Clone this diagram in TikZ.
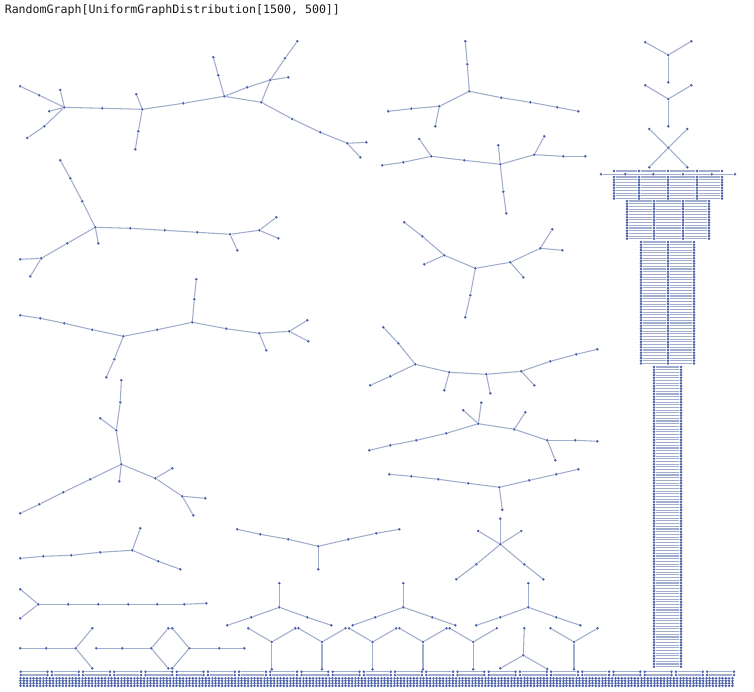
\documentclass[tikz,border=0pt]{standalone}
\usepackage{fontspec}
\newfontfamily\titlefont{DejaVu Sans Mono}
\definecolor{vcol}{HTML}{4A5FA8}
\definecolor{ecol}{HTML}{A0ADCC}
\tikzset{
  v/.style={circle,fill=vcol,draw=none,inner sep=0pt,minimum size=2.1pt},
  e/.style={draw=ecol,line width=0.8pt},
}
\newcommand\gcomp[2]{%
  \foreach \n/\x/\y in {#1} \node[v] (\n) at (\x,\y) {};
  \foreach \p/\q in {#2} \draw[e] (\p) -- (\q);
}
% name, y0, last row index, column list, number of edges per row
\newcommand\towerblock[5]{%
  \foreach \k in {0,...,#3}{%
    \pgfmathsetmacro\yy{#2+2.7*\k}
    \foreach \x [count=\c] in {#4} \node[v] (#1-\k-\c) at (\x,\yy) {};
    \foreach \c [evaluate=\c as \cn using int(\c+1)] in {1,...,#5} \draw[e] (#1-\k-\c) -- (#1-\k-\cn);
  }%
}
\begin{document}
\begin{tikzpicture}[x=0.75pt,y=-0.75pt]
\path[use as bounding box, fill=white] (0,0) rectangle (754,692);
\node[anchor=base west,inner sep=0pt,font=\titlefont\fontsize{8.7pt}{10pt}\selectfont,text=black!90] (title) at (4.5,13.5) {RandomGraph[UniformGraphDistribution[1500, 500]]};

% component A
\gcomp{a1/20.3/86.3, a2/39.3/95.3, a3/64.3/107.3, a4/60.3/90, a5/49.3/111.3, a6/44.3/126.3, a7/27.3/138, a8/102.3/108.3, a9/142.3/109.3, a10/136.3/94.3, a11/138.3/131.3, a12/135.3/149.3, a13/183.3/103.3, a14/224.3/96.3, a15/218.3/75.3, a16/213.3/57.3, a17/247.3/87.3, a18/270.3/80, a19/288.3/77.3, a20/285/58.3, a21/297.3/41.3, a22/261.3/102.3, a23/292.3/119, a24/320.3/132.3, a25/347.3/143.3, a26/366.3/142.3, a27/360.3/157.3}
{a1/a2, a2/a3, a4/a3, a5/a3, a3/a6, a6/a7, a3/a8, a8/a9, a9/a10, a9/a11, a11/a12, a9/a13, a13/a14, a14/a15, a15/a16, a14/a17, a17/a18, a18/a19, a18/a20, a20/a21, a14/a22, a22/a18, a22/a23, a23/a24, a24/a25, a25/a26, a25/a27}
% component B
\gcomp{b1/60.3/160.3, b2/70.3/178.3, b3/82.3/201.3, b4/95.3/227.3, b5/98.3/243.3, b6/67.3/243.3, b7/41.3/258.3, b8/20.3/259.3, b9/30.3/276.3, b10/130.3/228.3, b11/164.7/230.3, b12/197.3/232.3, b13/230/234.3, b14/237.3/250.3, b15/259.3/230.3, b16/276.3/217.3, b17/278.3/238.3}
{b1/b2, b2/b3, b3/b4, b4/b5, b4/b6, b6/b7, b7/b8, b7/b9, b4/b10, b10/b11, b11/b12, b12/b13, b13/b14, b13/b15, b15/b16, b15/b17}
% component C
\gcomp{c1/465.3/41.3, c2/467.3/64.3, c3/469.3/91.3, c4/439.3/106.3, c5/411.3/108.7, c6/388.3/111.3, c7/435.3/126.3, c8/501.3/97.7, c9/530.3/102.3, c10/557.3/107.3, c11/578.3/111.3}
{c1/c2, c2/c3, c3/c4, c4/c5, c5/c6, c4/c7, c3/c8, c8/c9, c9/c10, c10/c11}
% component D
\gcomp{d1/382.3/165.3, d2/403.3/162.3, d3/431.3/156.3, d4/419.3/139, d5/464.3/160.3, d6/500.3/164.3, d7/498.3/145.3, d8/503.3/191.7, d9/506.3/213.3, d10/534.3/154.7, d11/544.3/136.3, d12/563.3/156.3, d13/585.3/156.3}
{d1/d2, d2/d3, d3/d4, d3/d5, d5/d6, d6/d7, d6/d8, d8/d9, d6/d10, d10/d11, d10/d12, d12/d13}
% component E
\gcomp{e1/404.3/222.3, e2/422.3/236.3, e3/444.3/255.3, e4/424.3/264.3, e5/475.3/268.3, e6/470.3/295.3, e7/465.3/317.3, e8/510.3/262.3, e9/523.3/277.3, e10/540.3/248.3, e11/552.3/229.3, e12/562.3/250.3}
{e1/e2, e2/e3, e3/e4, e3/e5, e5/e6, e6/e7, e5/e8, e8/e9, e8/e10, e10/e11, e10/e12}
% component F
\gcomp{f1/20.3/315.3, f2/40.3/318.3, f3/64.3/323.3, f4/92.3/329.7, f5/123.3/336.3, f6/114.3/359.3, f7/106.3/377.3, f8/157.3/329.7, f9/192.3/322.3, f10/194.3/299.3, f11/196.3/279.3, f12/226.3/328.7, f13/259.3/333.3, f14/266.3/350.3, f15/289.3/331.3, f16/307.3/320.3, f17/308.3/341.3}
{f1/f2, f2/f3, f3/f4, f4/f5, f5/f6, f6/f7, f5/f8, f8/f9, f9/f10, f10/f11, f9/f12, f12/f13, f13/f14, f13/f15, f15/f16, f15/f17}
% component G
\gcomp{g1/121.3/380.3, g2/120.3/402.3, g3/116.3/430.3, g4/100.3/418.3, g5/121.3/464.3, g6/119.3/481.3, g7/90.3/479.3, g8/63.3/492.3, g9/39.3/504.3, g10/20.3/513.3, g11/155.3/478.3, g12/172.3/468.3, g13/182.3/496.3, g14/205.3/498.3, g15/193.3/515.3}
{g1/g2, g2/g3, g3/g4, g3/g5, g5/g6, g5/g7, g7/g8, g8/g9, g9/g10, g5/g11, g11/g12, g11/g13, g13/g14, g13/g15}
% component H
\gcomp{h1/383.3/327.3, h2/398.3/343.3, h3/415.3/364.3, h4/390.3/376.3, h5/370.3/385.3, h6/449.3/372.3, h7/444.3/390.3, h8/486.3/374.3, h9/490.3/393.3, h10/521.3/371.3, h11/534.3/385.3, h12/550.3/361.3, h13/576.3/354.3, h14/597.3/349.3}
{h1/h2, h2/h3, h3/h4, h4/h5, h3/h6, h6/h7, h6/h8, h8/h9, h8/h10, h10/h11, h10/h12, h12/h13, h13/h14}
% component I
\gcomp{i1/369.3/450.3, i2/390.3/445.3, i3/416.3/440.3, i4/446.3/433.3, i5/478.3/423.7, i6/463.3/410.3, i7/481.3/402.7, i8/514.3/429.3, i9/525.3/412.3, i10/547.3/440.3, i11/555.3/460.3, i12/575.3/440.3, i13/597.3/441.3}
{i1/i2, i2/i3, i3/i4, i4/i5, i5/i6, i5/i7, i5/i8, i8/i9, i8/i10, i10/i11, i10/i12, i12/i13}
% component J
\gcomp{j1/389.3/474.3, j2/411.3/476.3, j3/438.3/479.3, j4/468.3/483.3, j5/499.3/487.3, j6/502.3/509.7, j7/529.3/480.3, j8/556.3/474.3, j9/578.3/469.3}
{j1/j2, j2/j3, j3/j4, j4/j5, j5/j6, j5/j7, j7/j8, j8/j9}
% component K
\gcomp{k1/500.3/518.7, k2/500.3/544.3, k3/478.3/531, k4/521.3/531, k5/476.3/564.3, k6/456.3/579.3, k7/524.3/564.3, k8/543.3/579.3}
{k1/k2, k2/k3, k2/k4, k2/k5, k5/k6, k2/k7, k7/k8}
% component L
\gcomp{l1/237.3/529.3, l2/260.3/534.3, l3/288.3/539.3, l4/318.3/546.3, l5/318.3/569.3, l6/348.3/539.3, l7/376.3/533.3, l8/399.3/529.3}
{l1/l2, l2/l3, l3/l4, l4/l5, l4/l6, l6/l7, l7/l8}
% component M
\gcomp{m1/20.3/558.3, m2/43.3/556.3, m3/71.3/555.3, m4/100.3/552.3, m5/132.3/550.3, m6/140.3/528.3, m7/158.3/561.3, m8/180.3/569.3}
{m1/m2, m2/m3, m3/m4, m4/m5, m5/m6, m5/m7, m7/m8}
% component N
\gcomp{n1/20.3/589.3, n2/20.3/618.3, n3/38.3/604.3, n4/68.3/604.3, n5/98.3/604.3, n6/128.3/604.3, n7/157.3/604.3, n8/184.3/604.3, n9/206.3/603.3}
{n1/n3, n2/n3, n3/n4, n4/n5, n5/n6, n6/n7, n7/n8, n8/n9}
% component O
\gcomp{o1/20.3/648.3, o2/46.3/648.3, o3/75.7/648.3, o4/92.3/628.3, o5/92.3/668.3}
{o1/o2, o2/o3, o3/o4, o3/o5}
% component P
\gcomp{p1/96.3/648.3, p2/122.3/648.3, p3/151.3/648.3, p4/168.3/628.3, p5/172.3/628.3, p6/168.3/668.3, p7/172.3/668.3, p8/189.3/648.3, p9/219.3/648.3, p10/244.3/648.3}
{p1/p2, p2/p3, p3/p4, p4/p5, p5/p8, p3/p6, p6/p7, p7/p8, p8/p9, p9/p10}
% trees Q R S
\gcomp{q1/279.3/583.3, q2/279.3/607.3, q3/251.3/617.3, q4/227.3/625.3, q5/307.3/617.3, q6/331.3/625.3}
{q1/q2, q2/q3, q3/q4, q2/q5, q5/q6}
\gcomp{r1/403.3/583.3, r2/403.3/607.3, r3/375.3/617.3, r4/352.7/625.3, r5/432.3/617.3, r6/455.3/625.3}
{r1/r2, r2/r3, r3/r4, r2/r5, r5/r6}
\gcomp{s1/528.3/583.3, s2/528.3/607.3, s3/500.3/617.3, s4/476.3/625.3, s5/556.3/617.3, s6/580.3/625.3}
{s1/s2, s2/s3, s3/s4, s2/s5, s5/s6}
% inverted Y
\gcomp{w1/524.3/628.3, w2/523.3/655.3, w3/500.3/668.3, w4/547.3/669}
{w1/w2, w2/w3, w2/w4}
% Y components
\foreach \cx [count=\i] in {271.8,322,372.6,423,473.2,574}{
  \node[v] (Y\i-1) at (\cx-23.5,628.3) {};
  \node[v] (Y\i-2) at (\cx+23.5,628.3) {};
  \node[v] (Y\i-3) at (\cx,642) {};
  \node[v] (Y\i-4) at (\cx,669.3) {};
  \draw[e] (Y\i-1) -- (Y\i-3);
  \draw[e] (Y\i-2) -- (Y\i-3);
  \draw[e] (Y\i-3) -- (Y\i-4);
}
% small stars above the tower
\gcomp{T1a/645.3/42.3, T1b/691.3/41.3, T1c/668.3/55, T1d/668.3/82.3, T2a/645.3/85.3, T2b/691.3/85.3, T2c/668.3/99, T2d/668.3/126.3, T3a/649.3/129, T3b/687.3/129, T3c/668.3/147.7, T3d/649.3/167.3, T3e/687.3/167.3}
{T1a/T1c, T1b/T1c, T1c/T1d, T2a/T2c, T2b/T2c, T2c/T2d, T3a/T3c, T3b/T3c, T3c/T3d, T3c/T3e}
% tower
\towerblock{P5a}{171}{0}{614,639,668,697,722}{4}
\towerblock{P6}{174.2}{0}{601,625.3,653.3,683,711.7,735}{5}
\towerblock{P5b}{177}{8}{614,639,668,697,722}{4}
\towerblock{P4}{201}{14}{627,654,683,709}{3}
\towerblock{P3}{242}{45}{641,668,694}{2}
\towerblock{P2}{367}{111}{654,681}{1}
% bottom strip: rows of single edges
\foreach \row/\yr in {A/671.7,B/675}{
  \foreach \k in {0,...,22}{
    \pgfmathsetmacro\xa{20.7+31.2*\k}
    \pgfmathsetmacro\xb{\xa+26.8}
    \node[v] (S\row-\k-1) at (\xa,\yr) {};
    \node[v] (S\row-\k-2) at (\xb,\yr) {};
    \draw[e] (S\row-\k-1) -- (S\row-\k-2);
  }
}
% bottom strip: dense small components
\foreach \g in {0,...,54}{
  \pgfmathsetmacro\xg{20.5+13*\g}
  \foreach \r/\yr in {1/678.3,2/680.8,3/683.3,4/685.8}{
    \foreach \cc in {0,...,3}{\node[v] (G-\g-\r-\cc) at (\xg+3.3*\cc,\yr) {};}
  }
  \foreach \r in {1,2,3}{\draw[e] (G-\g-\r-0) -- (G-\g-\r-1) -- (G-\g-\r-2) -- (G-\g-\r-3);}
}
\end{tikzpicture}
\end{document}
